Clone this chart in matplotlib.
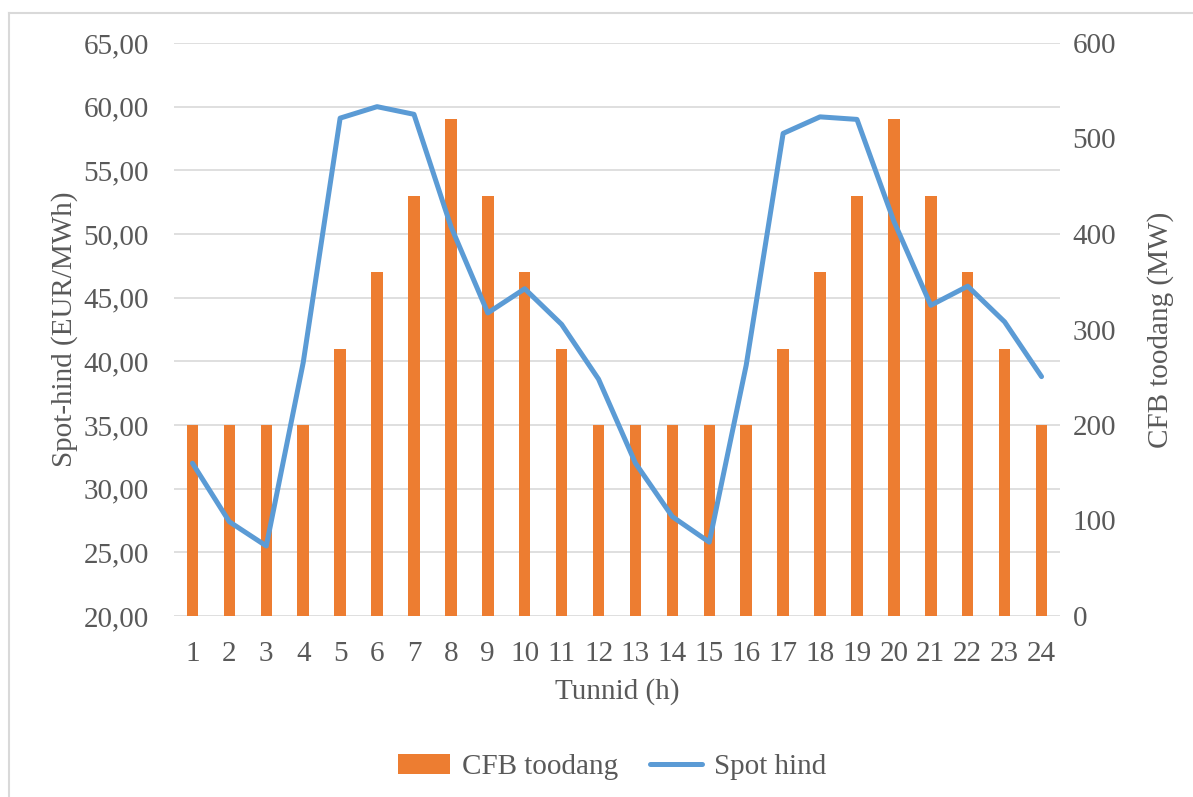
import matplotlib.pyplot as plt
from matplotlib.ticker import FuncFormatter, MultipleLocator
from matplotlib.lines import Line2D

# andmed
tunnid = list(range(1, 25))
cfb_toodang = [200, 200, 200, 200, 280, 360, 440, 520, 440, 360, 280, 200,
               200, 200, 200, 200, 280, 360, 440, 520, 440, 360, 280, 200]
spot_hind = [32.0, 27.4, 25.5, 39.9, 59.1, 60.0, 59.4, 50.6, 43.8, 45.7, 42.9, 38.6,
             32.0, 27.8, 25.8, 39.7, 57.9, 59.2, 59.0, 51.0, 44.4, 45.9, 43.1, 38.8]

plt.rcParams['font.family'] = ['Liberation Serif', 'DejaVu Serif']
tekst = '#595959'
oranz = '#ED7D31'
sinine = '#5B9BD5'

W, H = 1193, 797
fig = plt.figure(figsize=(W / 100, H / 100), dpi=100)
# diagrammi ala piir (vasak ja ülemine serv)
fig.lines.append(Line2D([9 / W, 9 / W], [0, 1 - 13 / H], transform=fig.transFigure,
                        color='#D9D9D9', lw=1.5))
fig.lines.append(Line2D([9 / W, 1], [1 - 13 / H, 1 - 13 / H], transform=fig.transFigure,
                        color='#D9D9D9', lw=1.5))

ax = fig.add_axes([174 / W, 1 - 616 / H, (1060 - 174) / W, (616 - 43) / H])
ax2 = ax.twinx()

# tulbad parempoolsel teljel
bars = ax2.bar(tunnid, cfb_toodang, width=0.31, color=oranz, label='CFB toodang', zorder=2)
ax2.set_ylim(0, 600)
ax2.yaxis.set_major_locator(MultipleLocator(100))

# joon vasakul teljel, tulpade peal
ax.set_zorder(ax2.get_zorder() + 1)
ax.patch.set_visible(False)
line, = ax.plot(tunnid, spot_hind, color=sinine, lw=3.6, label='Spot hind',
                solid_joinstyle='round', solid_capstyle='round')
ax.set_ylim(20, 65)
ax.yaxis.set_major_locator(MultipleLocator(5))
ax.yaxis.set_major_formatter(FuncFormatter(lambda v, p: f"{v:.2f}".replace('.', ',')))
ax.set_xlim(0.5, 24.5)
ax.set_xticks(tunnid)

# ruudustik
for v in range(20, 66, 5):
    ax2.axhline((v - 20) / 45 * 600, color='#D9D9D9', lw=1.2, zorder=0)

for a in (ax, ax2):
    for s in a.spines.values():
        s.set_visible(False)
    a.tick_params(length=0, labelsize=21, colors=tekst)
ax.tick_params(axis='y', pad=18)
ax.tick_params(axis='x', pad=18)
ax2.tick_params(axis='y', pad=9)

ax.set_ylabel('Spot-hind (EUR/MWh)', fontsize=21, color=tekst, labelpad=4)
ax2.set_ylabel('CFB toodang (MW)', fontsize=21, color=tekst, labelpad=22)
ax.set_xlabel('Tunnid (h)', fontsize=21, color=tekst, labelpad=8)

leg = fig.legend([bars, line], ['CFB toodang', 'Spot hind'], loc='center',
                 bbox_to_anchor=(0.513, 1 - 767 / H), ncol=2, frameon=False,
                 fontsize=21, handlelength=1.8, columnspacing=1.1, handletextpad=0.4)
for t in leg.get_texts():
    t.set_color(tekst)

fig.savefig('out.png', dpi=100)
